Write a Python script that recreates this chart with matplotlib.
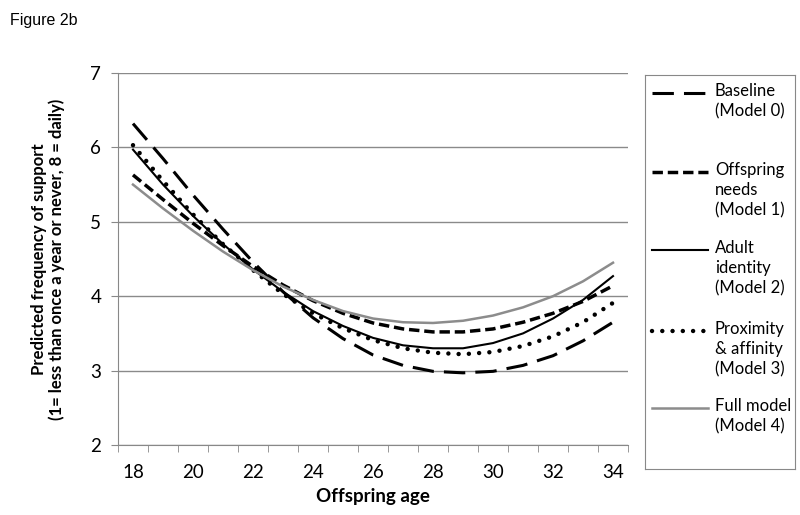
import numpy as np
import matplotlib
matplotlib.use('Agg')
import matplotlib.pyplot as plt

# data
ages = np.arange(18, 35)
baseline = [6.32, 5.85, 5.36, 4.90, 4.46, 4.06, 3.71, 3.43, 3.21, 3.07, 2.99, 2.97, 2.99, 3.07, 3.20, 3.40, 3.65]
needs = [5.63, 5.30, 4.98, 4.68, 4.40, 4.15, 3.94, 3.77, 3.64, 3.56, 3.52, 3.52, 3.56, 3.65, 3.77, 3.93, 4.14]
identity = [5.97, 5.50, 5.08, 4.70, 4.36, 4.06, 3.80, 3.60, 3.44, 3.34, 3.30, 3.30, 3.37, 3.50, 3.70, 3.95, 4.27]
proximity = [6.03, 5.55, 5.10, 4.70, 4.35, 4.03, 3.77, 3.57, 3.41, 3.30, 3.24, 3.22, 3.25, 3.33, 3.46, 3.65, 3.91]
full = [5.50, 5.18, 4.88, 4.60, 4.35, 4.13, 3.95, 3.80, 3.70, 3.65, 3.64, 3.67, 3.74, 3.85, 4.00, 4.20, 4.45]

labels = ['Baseline\n(Model 0)', 'Offspring\nneeds\n(Model 1)', 'Adult\nidentity\n(Model 2)',
          'Proximity\n& affinity\n(Model 3)', 'Full model\n(Model 4)']

styles = [
    dict(color='black', lw=2.2, ls=(0, (7, 3.3))),
    dict(color='black', lw=2.5, ls=(0, (3, 1.4))),
    dict(color='black', lw=1.5, ls='-'),
    dict(color='black', lw=3.2, ls=(0, (0.01, 2.3)), dash_capstyle='round'),
    dict(color='#8c8c8c', lw=1.8, ls='-'),
]
series = [baseline, needs, identity, proximity, full]

plt.rcParams['font.family'] = ['Lato', 'DejaVu Sans']

W, H = 800, 515
fig = plt.figure(figsize=(8, 5.15), dpi=100)
ax = fig.add_axes([118 / W, 1 - 445 / H, 510 / W, 372 / H])

for ys, st in zip(series, styles):
    ax.plot(ages, ys, **st)

ax.set_xlim(17.5, 34.5)
ax.set_ylim(2, 7)
ax.set_xticks(np.arange(17.5, 35, 1), minor=True)
ax.set_xticks(ages[::2])
ax.tick_params(axis='x', which='major', length=0, labelsize=13.5, pad=14)
ax.tick_params(axis='x', which='minor', length=5, color='#888888', direction='out')
ax.set_yticks(range(2, 8))
ax.tick_params(axis='y', length=5, color='#888888', labelsize=13.5, pad=7)
ax.grid(axis='y', color='#8a8a8a', lw=1)
ax.set_axisbelow(True)
for s in ['top', 'right']:
    ax.spines[s].set_visible(False)
for s in ['left', 'bottom']:
    ax.spines[s].set_color('#888888')

ax.set_xlabel('Offspring age', fontsize=13.5, fontweight='bold', labelpad=5)
ax.set_ylabel('Predicted frequency of support\n(1= less than once a year or never, 8 = daily)',
              fontsize=12, fontweight='bold', labelpad=18, linespacing=1.15)

fig.text(10 / W, 1 - 20 / H, 'Figure 2b', fontsize=11.5, family='Liberation Sans', va='center')

# legend drawn by hand so the handle sits on the first text line
lax = fig.add_axes([645 / W, 1 - 469 / H, 150 / W, 394 / H])
lax.set_xlim(0, 150)
lax.set_ylim(394, 0)
lax.set_xticks([])
lax.set_yticks([])
for s in lax.spines.values():
    s.set_color('#888888')
entry_y = [18, 97, 175, 256, 333]
for yy, st, lab in zip(entry_y, styles, labels):
    lax.plot([7, 63], [yy, yy], **st)
    lax.text(70, yy - 10, lab, fontsize=12, va='top', ha='left', multialignment='left',
             linespacing=1.3)

fig.savefig('out.png', dpi=100)
